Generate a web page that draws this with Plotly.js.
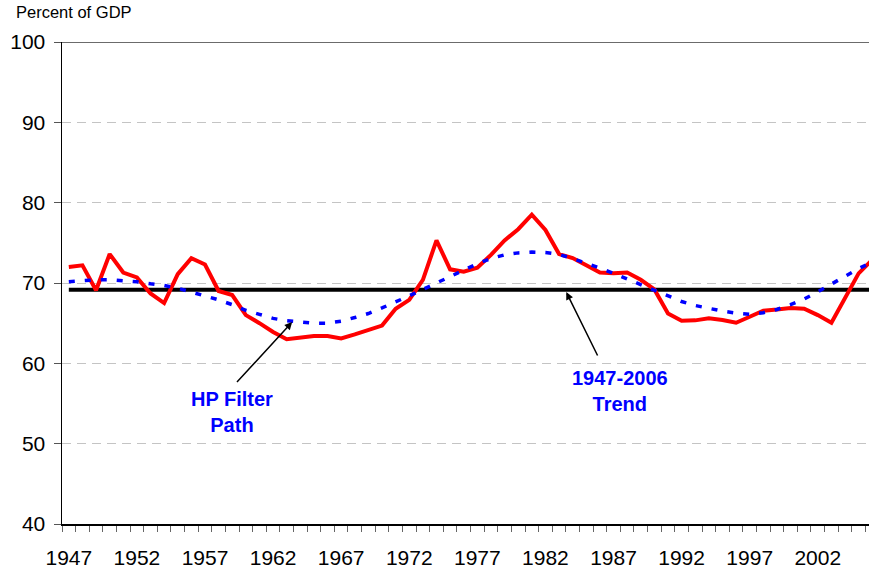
<!DOCTYPE html>
<html>
<head>
<meta charset="utf-8">
<script src="https://cdn.plot.ly/plotly-3.0.1.min.js"></script>
<style>
  html, body { margin: 0; padding: 0; background: #ffffff; }
  #chart { width: 869px; height: 572px; }
</style>
</head>
<body>
<div id="chart"></div>
<script>
// ---- Data ----
const years = [1947, 1948, 1949, 1950, 1951, 1952, 1953, 1954, 1955, 1956,
               1957, 1958, 1959, 1960, 1961, 1962, 1963, 1964, 1965, 1966,
               1967, 1968, 1969, 1970, 1971, 1972, 1973, 1974, 1975, 1976,
               1977, 1978, 1979, 1980, 1981, 1982, 1983, 1984, 1985, 1986,
               1987, 1988, 1989, 1990, 1991, 1992, 1993, 1994, 1995, 1996,
               1997, 1998, 1999, 2000, 2001, 2002, 2003, 2004, 2005, 2006];

const actualValues = [72.0, 72.2, 69.1, 73.6, 71.3, 70.7, 68.7, 67.5, 71.1, 73.1,
                      72.3, 69.0, 68.5, 66.0, 65.0, 63.9, 63.0, 63.2, 63.4, 63.4,
                      63.1, 63.6, 64.1, 64.7, 66.8, 67.9, 70.4, 75.3, 71.7, 71.4,
                      71.9, 73.5, 75.3, 76.7, 78.5, 76.6, 73.6, 73.1, 72.2, 71.3,
                      71.2, 71.3, 70.4, 69.2, 66.2, 65.3, 65.35, 65.6, 65.4, 65.05,
                      65.8, 66.55, 66.7, 66.9, 66.8, 66.0, 65.05, 68.1, 71.2, 72.9];

const hpValues = [70.15, 70.3, 70.4, 70.4, 70.3, 70.15, 69.9, 69.7, 69.35, 68.9,
                  68.45, 67.9, 67.3, 66.6, 66.1, 65.6, 65.3, 65.1, 65.0, 65.0,
                  65.25, 65.7, 66.2, 66.9, 67.6, 68.4, 69.2, 70.0, 70.8, 71.6,
                  72.4, 73.05, 73.5, 73.75, 73.85, 73.8, 73.55, 73.05, 72.5, 71.85,
                  71.2, 70.5, 69.8, 69.0, 68.3, 67.7, 67.2, 66.8, 66.5, 66.25,
                  66.1, 66.3, 66.7, 67.3, 68.0, 68.9, 69.9, 70.9, 71.8, 72.6];

const trendYears = [1947, 2006];
const trendValues = [69.15, 69.15];

const xTickVals = [1947, 1952, 1957, 1962, 1967, 1972, 1977, 1982, 1987, 1992, 1997, 2002];
const xTickText = ['1947', '1952', '1957', '1962', '1967', '1972', '1977', '1982', '1987', '1992', '1997', '2002'];
const yTickVals = [40, 50, 60, 70, 80, 90, 100];

const FONT = 'Liberation Sans, Arial, Helvetica, sans-serif';

const traces = [
  { x: trendYears, y: trendValues, type: 'scatter', mode: 'lines',
    line: { color: '#000000', width: 4 }, hoverinfo: 'skip', name: 'Trend' },
  { x: years, y: actualValues, type: 'scatter', mode: 'lines',
    line: { color: '#FF0000', width: 4 }, name: 'Actual' },
  { x: years, y: hpValues, type: 'scatter', mode: 'lines',
    line: { color: '#0000FF', width: 3.5, dash: '6px,10px' }, name: 'HP Filter' }
];

const layout = {
  width: 869, height: 572,
  margin: { l: 62, r: 0, t: 42, b: 48, pad: 0 },
  paper_bgcolor: '#ffffff', plot_bgcolor: '#ffffff',
  showlegend: false,
  font: { family: FONT, color: '#000000' },
  xaxis: {
    range: [1946.5, 2005.76],
    tickvals: xTickVals, ticktext: xTickText,
    ticks: '', ticklabelstandoff: 14,
    tickfont: { family: FONT, size: 21, color: '#000000' },
    showgrid: false, zeroline: false,
    showline: true, linecolor: '#000000', linewidth: 1.5,
    minor: { ticks: 'outside', ticklen: 6, tickwidth: 1, tickcolor: '#666666',
             tick0: 1946.5, dtick: 1, showgrid: false }
  },
  yaxis: {
    range: [40, 100],
    tickvals: yTickVals,
    ticks: 'outside', ticklen: 7, tickwidth: 1, tickcolor: '#555555',
    tickfont: { family: FONT, size: 21, color: '#000000' },
    ticklabelstandoff: 4,
    showgrid: true, gridcolor: '#c4c4c4', gridwidth: 1, griddash: '9px,6px',
    zeroline: false,
    showline: true, linecolor: '#000000', linewidth: 1.5
  },
  shapes: [
    { type: 'line', xref: 'paper', yref: 'y', x0: 0, x1: 1, y0: 100, y1: 100,
      line: { color: '#3a3a3a', width: 1.5 } }
  ],
  annotations: [
    { text: 'Percent of GDP', xref: 'paper', yref: 'paper',
      x: -0.0595, y: 1.062, xanchor: 'left', yanchor: 'middle',
      showarrow: false, font: { family: FONT, size: 16.5, color: '#000000' } },
    { text: '<b>HP Filter<br>Path</b>', xref: 'x', yref: 'y',
      x: 1958.95, y: 54.0, xanchor: 'center', yanchor: 'middle',
      showarrow: false, font: { family: FONT, size: 20, color: '#0000FF' } },
    { text: '<b>1947-2006<br>Trend</b>', xref: 'x', yref: 'y',
      x: 1987.51, y: 56.55, xanchor: 'center', yanchor: 'middle',
      showarrow: false, font: { family: FONT, size: 20, color: '#0000FF' } },
    { text: ' ', xref: 'x', yref: 'y', axref: 'x', ayref: 'y',
      x: 1963.4, y: 65.13, ax: 1959.24, ay: 57.46,
      showarrow: true, arrowhead: 2, arrowsize: 1, arrowwidth: 1.5, arrowcolor: '#000000',
      font: { size: 1 } },
    { text: ' ', xref: 'x', yref: 'y', axref: 'x', ayref: 'y',
      x: 1983.53, y: 68.87, ax: 1985.9, ay: 60.73,
      showarrow: true, arrowhead: 2, arrowsize: 1, arrowwidth: 1.5, arrowcolor: '#000000',
      font: { size: 1 } }
  ]
};

Plotly.newPlot('chart', traces, layout, { staticPlot: true, displayModeBar: false });
</script>
</body>
</html>
